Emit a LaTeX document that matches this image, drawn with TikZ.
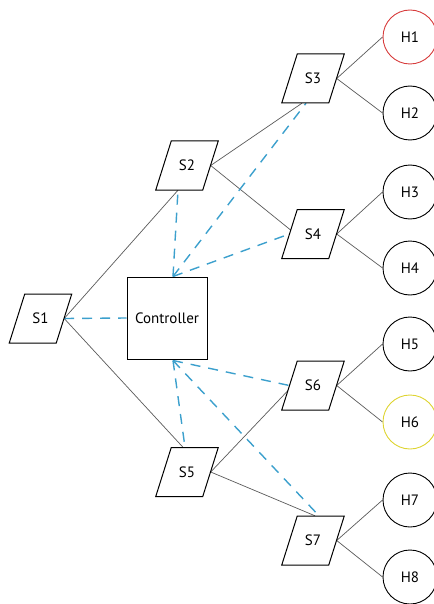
\documentclass[tikz,border=0pt]{standalone}
\usepackage{fontspec}
\setmainfont{PT Sans}
\usetikzlibrary{calc,backgrounds}
\definecolor{linkgray}{RGB}{90,90,90}
\definecolor{ctrlblue}{RGB}{60,160,205}
\definecolor{hostred}{RGB}{215,60,60}
\definecolor{hostyellow}{RGB}{222,212,50}
\begin{document}
\begin{tikzpicture}[x=1pt,y=-1pt,
  font=\fontsize{15}{18}\selectfont,
  switch/.style={rectangle, minimum width=47pt, minimum height=49pt, inner sep=0pt},
  switchbody/.style={draw=black, line width=1pt, fill=white, line join=miter},
  host/.style={circle, draw=black, line width=0.9pt, minimum size=54pt, inner sep=0pt},
  ctrl/.style={rectangle, draw=black, line width=1pt, minimum width=80pt,
               minimum height=82pt, inner sep=0pt, fill=white},
  link/.style={draw=linkgray, line width=0.7pt},
  ctrllink/.style={draw=ctrlblue, line width=1.4pt, dash pattern=on 10pt off 8pt}]
\useasboundingbox (0,0) rectangle (433,604);

% switches
\node[switch] (S1) at (40.5,318.5) {S1};
\node[switch] (S2) at (187,165.5) {S2};
\node[switch] (S3) at (313,78.5) {S3};
\node[switch] (S4) at (313,234) {S4};
\node[switch] (S5) at (187,472) {S5};
\node[switch] (S6) at (313,385.5) {S6};
\node[switch] (S7) at (313,540.5) {S7};

% controller
\node[ctrl] (C) at (167,318) {Controller};
\coordinate (Ct) at ($(C.north)+(6,0)$);
\coordinate (Cb) at ($(C.south)+(6,1)$);

% hosts
\node[host, draw=hostred] (H1) at (410,37) {H1};
\node[host] (H2) at (410,113) {H2};
\node[host] (H3) at (410,192) {H3};
\node[host] (H4) at (410,268) {H4};
\node[host] (H5) at (410,344) {H5};
\node[host, draw=hostyellow] (H6) at (410,422) {H6};
\node[host] (H7) at (410,500) {H7};
\node[host] (H8) at (410,577) {H8};

% attachment points on switch borders
\coordinate (S2b) at ($(S2.south)+(-9,0)$);
\coordinate (S3bs) at ($(S3.south)+(-11,0)$);
\coordinate (S3bd) at ($(S3.south)+(-7,0)$);
\coordinate (S4ws) at ($(S4.west)+(1.3,-4)$);
\coordinate (S5ts) at ($(S5.north)+(-4,0)$);
\coordinate (S5td) at ($(S5.north)+(-2,0)$);
\coordinate (S6ws) at ($(S6.west)+(-1.3,5)$);
\coordinate (S7ts) at ($(S7.north)+(2,0)$);
\coordinate (S7td) at ($(S7.north)+(6,0)$);

\begin{scope}[on background layer]
  % data links
  \draw[link] (S1.east) -- (S2b);
  \draw[link] (S1.east) -- (S5ts);
  \draw[link] (S2.east) -- (S3bs);
  \draw[link] (S2.east) -- (S4ws);
  \draw[link] (S5.east) -- (S6ws);
  \draw[link] (S5.east) -- (S7ts);
  \draw[link] (S3.east) -- (H1.west);
  \draw[link] (S3.east) -- (H2.west);
  \draw[link] (S4.east) -- (H3.west);
  \draw[link] (S4.east) -- (H4.west);
  \draw[link] (S6.east) -- (H5.west);
  \draw[link] (S6.east) -- (H6.west);
  \draw[link] (S7.east) -- (H7.west);
  \draw[link] (S7.east) -- (H8.west);
  % control channels
  \draw[ctrllink] (S1.east) -- (C.west);
  \draw[ctrllink] (Ct) -- (S2b);
  \draw[ctrllink] (Ct) -- (S3bd);
  \draw[ctrllink] (Ct) -- (S4.west);
  \draw[ctrllink] (Cb) -- (S5td);
  \draw[ctrllink] (Cb) -- (S6.west);
  \draw[ctrllink] (Cb) -- (S7td);
  % parallelogram bodies of the switches
  \foreach \n in {S1,S2,S3,S4,S5,S6,S7}
    \draw[switchbody] ($(\n.center)+(-15.75,-24.5)$) -- ++(47,0) -- ++(-15.5,49)
      -- ++(-47,0) -- cycle;
\end{scope}
\end{tikzpicture}
\end{document}
